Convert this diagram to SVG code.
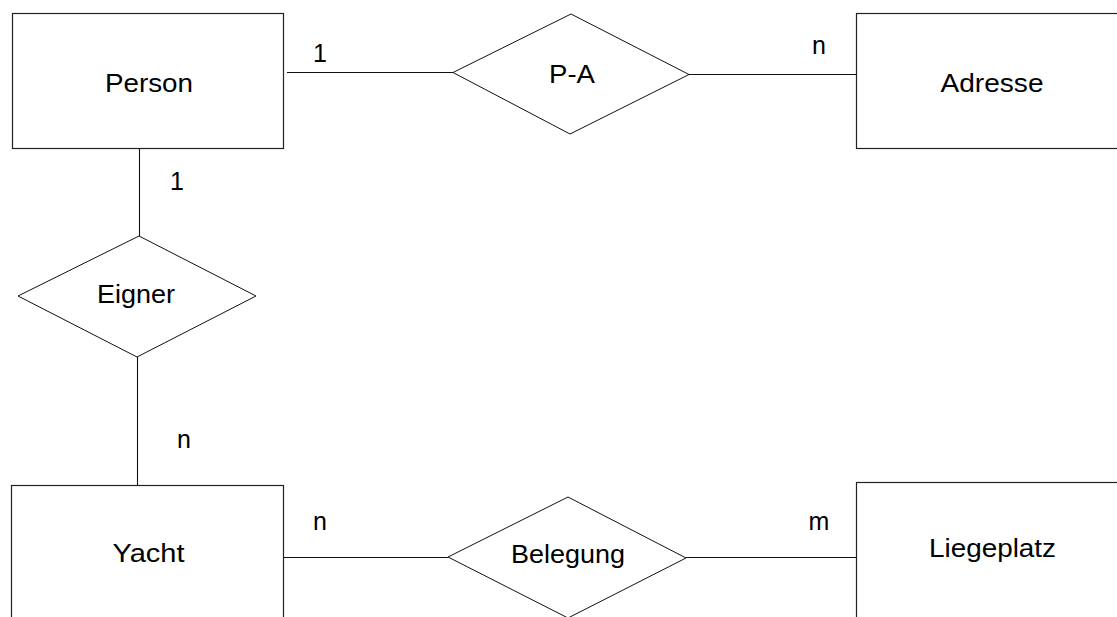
<svg xmlns="http://www.w3.org/2000/svg" width="1117" height="617" viewBox="0 0 1117 617">
  <style>
    .entity { fill: #ffffff; stroke: #222222; stroke-width: 1.2; }
    .relation { fill: #ffffff; stroke: #111111; stroke-width: 1; }
    .edge { fill: none; stroke: #111111; stroke-width: 1.1; }
    .name { font-family: "Liberation Sans", Arial, sans-serif; font-size: 25px; fill: #000000; text-anchor: middle; }
    .card { font-family: "Liberation Sans", Arial, sans-serif; font-size: 25px; fill: #000000; text-anchor: middle; }
  </style>
  <rect x="0" y="0" width="1117" height="617" fill="#ffffff"/>

  <!-- connectors between entities and relationships -->
  <g id="connectors">
    <line class="edge" x1="287" y1="72.5" x2="453" y2="72.5"/>
    <line class="edge" x1="689" y1="74.5" x2="856" y2="74.5"/>
    <line class="edge" x1="139.5" y1="149" x2="139.5" y2="236"/>
    <line class="edge" x1="137.5" y1="357" x2="137.5" y2="485"/>
    <line class="edge" x1="283" y1="557.5" x2="448" y2="557.5"/>
    <line class="edge" x1="686" y1="557.5" x2="856" y2="557.5"/>
  </g>

  <!-- entities -->
  <g id="person">
    <rect class="entity" x="12.5" y="13.5" width="271" height="135"/>
    <text class="name" x="149" y="92" textLength="88" lengthAdjust="spacingAndGlyphs">Person</text>
  </g>
  <g id="adresse">
    <rect class="entity" x="856.5" y="13.5" width="280" height="135"/>
    <text class="name" x="992" y="92" textLength="103" lengthAdjust="spacingAndGlyphs">Adresse</text>
  </g>
  <g id="yacht">
    <rect class="entity" x="11.5" y="485.5" width="272" height="160"/>
    <text class="name" x="148.5" y="562" textLength="72" lengthAdjust="spacingAndGlyphs">Yacht</text>
  </g>
  <g id="liegeplatz">
    <rect class="entity" x="856.5" y="482.5" width="280" height="160"/>
    <text class="name" x="992.5" y="557" textLength="127" lengthAdjust="spacingAndGlyphs">Liegeplatz</text>
  </g>

  <!-- relationships -->
  <g id="p-a">
    <polygon class="relation" points="453,72.5 571,14 689,74.5 570,134"/>
    <text class="name" x="572" y="83" textLength="46" lengthAdjust="spacingAndGlyphs">P-A</text>
  </g>
  <g id="eigner">
    <polygon class="relation" points="18,296 139,236 256,296 137,357"/>
    <text class="name" x="136" y="303" textLength="78" lengthAdjust="spacingAndGlyphs">Eigner</text>
  </g>
  <g id="belegung">
    <polygon class="relation" points="448,557 568,497 686,558 568,618"/>
    <text class="name" x="568" y="562.5" textLength="114" lengthAdjust="spacingAndGlyphs">Belegung</text>
  </g>

  <!-- cardinalities -->
  <g id="cardinalities">
    <text class="card" x="320" y="62">1</text>
    <text class="card" x="819" y="54">n</text>
    <text class="card" x="177" y="190">1</text>
    <text class="card" x="184" y="448">n</text>
    <text class="card" x="320" y="530">n</text>
    <text class="card" x="819" y="530">m</text>
  </g>
</svg>
